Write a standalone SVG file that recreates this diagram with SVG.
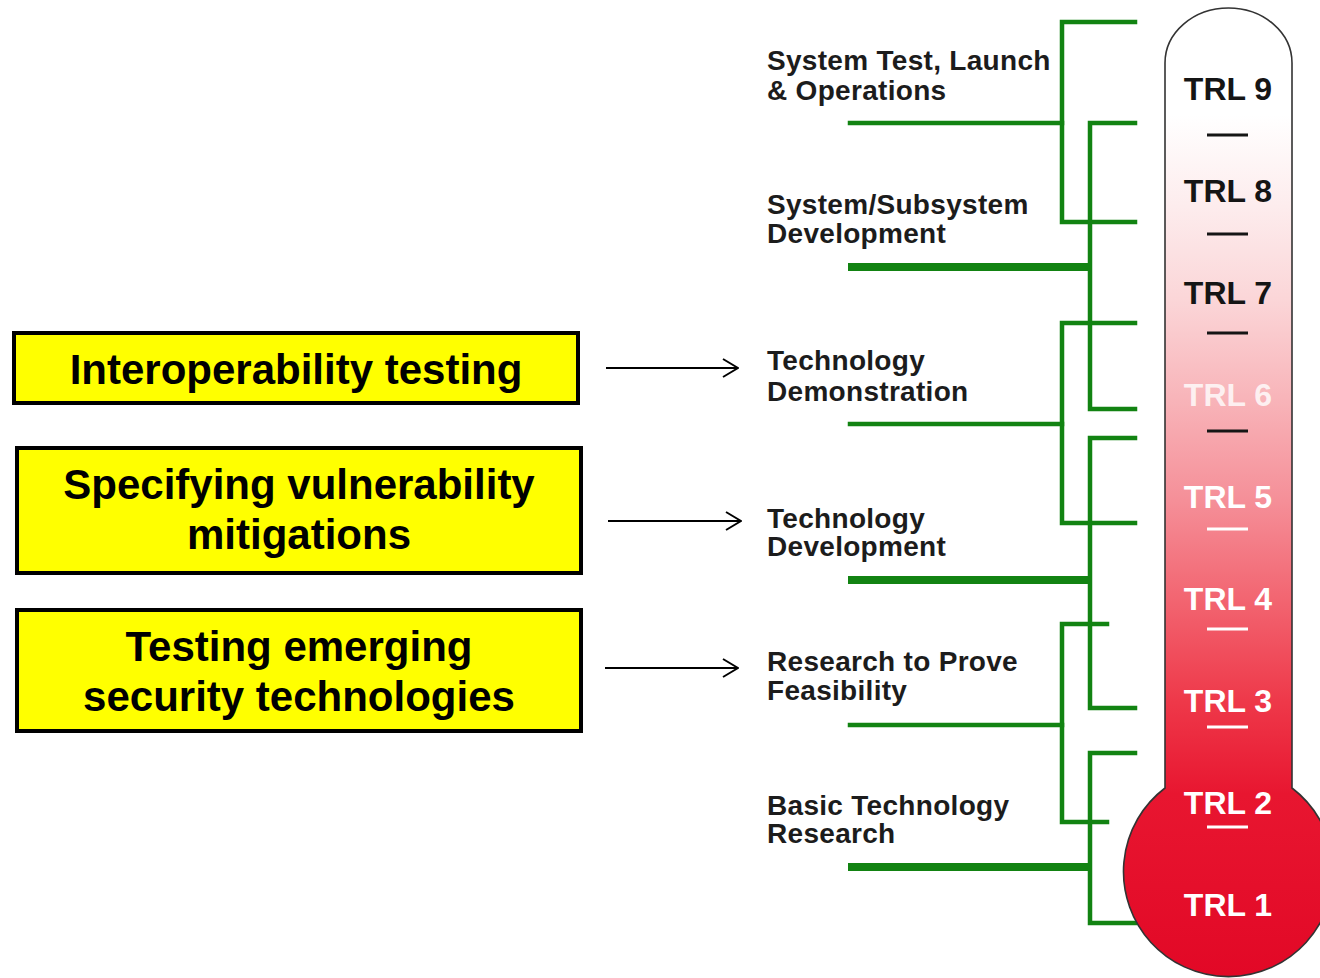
<svg xmlns="http://www.w3.org/2000/svg" width="1320" height="978" viewBox="0 0 1320 978">
<style>
.box{fill:#ffff00;stroke:#000;stroke-width:4}
.bt{font-family:"Liberation Sans",Arial,sans-serif;font-weight:bold;font-size:42px;fill:#000;text-anchor:middle}
.lb{font-family:"Liberation Sans",Arial,sans-serif;font-weight:bold;font-size:28px;fill:#1c1c1c;letter-spacing:0.3px}
.trl{font-family:"Liberation Sans",Arial,sans-serif;font-weight:bold;font-size:32px;text-anchor:middle}
.dk{fill:#151515}
.wh{fill:#ffffff}
.g{stroke:#128312;stroke-width:4.5;fill:none;stroke-linecap:square}
.gt{stroke:#128312;stroke-width:8;fill:none}
.arr{stroke:#000;stroke-width:2;fill:none}
</style>
<defs>
<linearGradient id="tg" gradientUnits="userSpaceOnUse" x1="0" y1="60" x2="0" y2="978">
<stop offset="0" stop-color="#ffffff"/>
<stop offset="0.06" stop-color="#ffffff"/>
<stop offset="0.16" stop-color="#fdeced"/>
<stop offset="0.26" stop-color="#fbd6d8"/>
<stop offset="0.37" stop-color="#f8b4b9"/>
<stop offset="0.48" stop-color="#f58f98"/>
<stop offset="0.59" stop-color="#f26470"/>
<stop offset="0.70" stop-color="#ee3849"/>
<stop offset="0.80" stop-color="#e81630"/>
<stop offset="1" stop-color="#e20826"/>
</linearGradient>
<marker id="ah" markerUnits="userSpaceOnUse" viewBox="0 0 17 20" refX="16" refY="10" markerWidth="17" markerHeight="20" orient="auto">
<path d="M1,1 L16,10 L1,19" fill="none" stroke="#000" stroke-width="2"/>
</marker>
</defs>

<g id="box-interop">
<rect class="box" x="14" y="333" width="564" height="70"/>
<text class="bt" x="296" y="384">Interoperability testing</text>
</g>
<g id="box-vuln">
<rect class="box" x="17" y="448" width="564" height="125"/>
<text class="bt" x="299" y="499">Specifying vulnerability</text>
<text class="bt" x="299" y="549">mitigations</text>
</g>
<g id="box-emerging">
<rect class="box" x="17" y="610" width="564" height="121"/>
<text class="bt" x="299" y="661">Testing emerging</text>
<text class="bt" x="299" y="711">security technologies</text>
</g>

<g id="connectors">
<path class="arr" d="M606,368 H738" marker-end="url(#ah)"/>
<path class="arr" d="M608,521 H741" marker-end="url(#ah)"/>
<path class="arr" d="M605,668 H738" marker-end="url(#ah)"/>

<path class="g" d="M1135,22 H1062 V222 H1135"/>
<path class="g" d="M850,123 H1062"/>
<path class="g" d="M1135,123 H1090 V409 H1135"/>
<path class="gt" d="M848,267 H1090"/>
<path class="g" d="M1135,323 H1062 V523 H1135"/>
<path class="g" d="M850,424 H1062"/>
<path class="g" d="M1135,438 H1090 V708 H1135"/>
<path class="gt" d="M848,580 H1090"/>
<path class="g" d="M1107,624 H1062 V822 H1107"/>
<path class="g" d="M850,725 H1062"/>
<path class="g" d="M1135,753 H1090 V923 H1135"/>
<path class="gt" d="M848,867 H1090"/>
</g>

<g id="labels">
<text class="lb" x="767" y="70">System Test, Launch</text>
<text class="lb" x="767" y="100">&amp; Operations</text>
<text class="lb" x="767" y="214">System/Subsystem</text>
<text class="lb" x="767" y="243">Development</text>
<text class="lb" x="767" y="370">Technology</text>
<text class="lb" x="767" y="401">Demonstration</text>
<text class="lb" x="767" y="528">Technology</text>
<text class="lb" x="767" y="556">Development</text>
<text class="lb" x="767" y="671">Research to Prove</text>
<text class="lb" x="767" y="700">Feasibility</text>
<text class="lb" x="767" y="815">Basic Technology</text>
<text class="lb" x="767" y="843">Research</text>
</g>

<g id="thermometer">
<path d="M1165,63 A63.5,55 0 0 1 1292,63 L1292,788 A105,105 0 1 1 1165,788 Z" fill="url(#tg)" stroke="#333" stroke-width="1.6"/>
<text class="trl dk" x="1228" y="100">TRL 9</text>
<text class="trl dk" x="1228" y="202">TRL 8</text>
<text class="trl dk" x="1228" y="304">TRL 7</text>
<text class="trl wh" x="1228" y="406" opacity="0.8">TRL 6</text>
<text class="trl wh" x="1228" y="508">TRL 5</text>
<text class="trl wh" x="1228" y="610">TRL 4</text>
<text class="trl wh" x="1228" y="712">TRL 3</text>
<text class="trl wh" x="1228" y="814">TRL 2</text>
<text class="trl wh" x="1228" y="916">TRL 1</text>
<path d="M1207,135 H1248 M1207,234 H1248 M1207,333 H1248 M1207,431 H1248" stroke="#151515" stroke-width="3"/>
<path d="M1207,529 H1248 M1207,629 H1248 M1207,727 H1248 M1207,827 H1248" stroke="#ffffff" stroke-width="3"/>
</g>
</svg>
